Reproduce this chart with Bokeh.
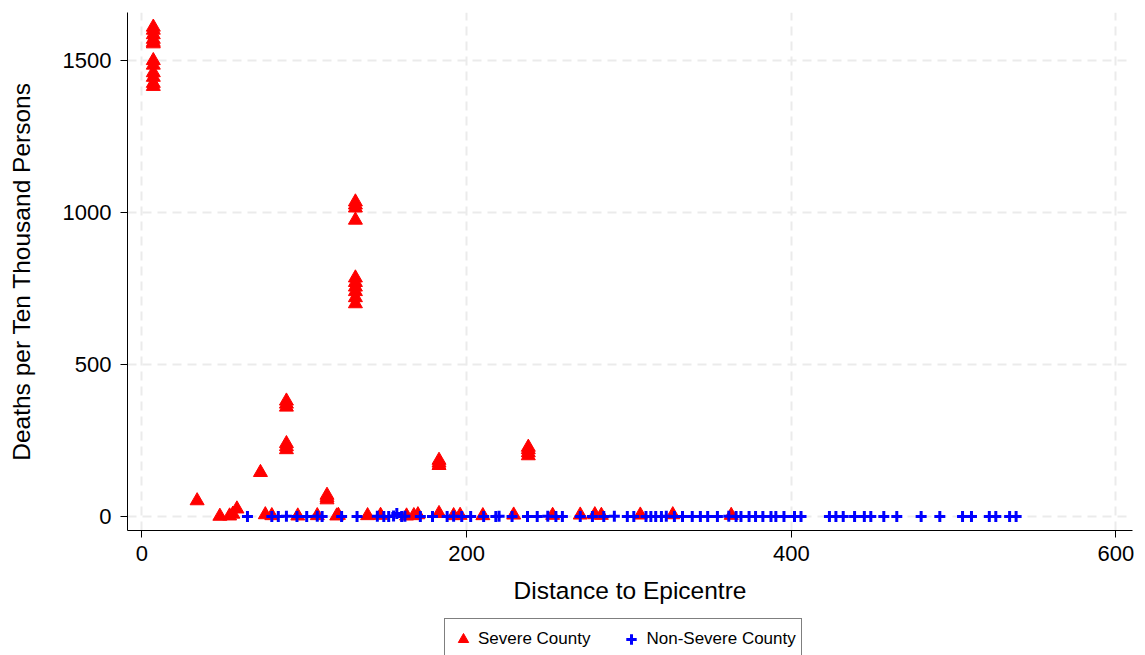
from bokeh.plotting import figure
from bokeh.layouts import column
from bokeh.models import ColumnDataSource, FixedTicker, Range1d, Legend, LegendItem
from bokeh.embed import file_html
from bokeh.resources import INLINE

# Severe counties: distance to epicentre (km) and deaths per ten thousand persons
severe_dist = [
    7, 7, 7, 7, 7, 7, 7, 7, 7, 7, 7, 7,
    34, 48, 54, 56, 58.5, 73, 76, 80,
    89, 89, 89, 89, 89, 89,
    96, 108, 114, 114, 114, 120, 121,
    131.5, 131.5, 131.5, 131.5, 131.5, 131.5, 131.5, 131.5, 131.5, 131.5,
    139, 147, 163, 167.5, 170,
    183, 183, 183, 183,
    192, 196, 210, 229,
    238, 238, 238, 238,
    253, 270, 279, 283, 307, 327, 363,
]
severe_deaths = [
    1610, 1600, 1585, 1570, 1560, 1555, 1500, 1485, 1460, 1445, 1425, 1415,
    52, 1, 2, 8, 25, 145, 6, 3,
    220, 230, 240, 360, 370, 380,
    2, 3, 55, 62, 70, 2, 4,
    1035, 1025, 1015, 975, 785, 770, 755, 740, 720, 700,
    3, 4, 2, 3, 6,
    168, 176, 185, 10,
    3, 4, 3, 5,
    200, 210, 220, 228,
    4, 5, 6, 4, 5, 6, 4,
]

# Non-severe counties
nonsevere_dist = [
    65, 80, 84, 89, 95.5, 101.5, 108, 111, 123, 132.5, 145, 149, 152, 155,
    157, 160, 162, 171.5, 179, 188, 192, 197, 202.5, 210.5, 218, 220, 228,
    237.5, 243.5, 250, 255, 259, 270, 277.5, 284.5, 291, 299, 303, 310.5,
    313.5, 316.5, 320, 323, 328, 333, 339, 344, 348.5, 354.5, 361.5, 366,
    369, 374, 378, 382.5, 387.5, 390.5, 395.5, 402, 406, 423.5, 427.5, 432,
    439, 445, 449, 457, 465, 480, 491.5, 505.5, 511, 522, 526, 534.5, 538.5,
]
nonsevere_deaths = [
    0, 0, 0, 1, 0, 0, 1, 0, 0, 0, 1, 0, 0, 2,
    10, 0, 1, 0, 0, 0, 1, 0, 0, 0, 0, 1, 0,
    0, 0, 1, 0, 0, 0, 0, 0, 1, 0, 0, 0,
    0, 0, 0, 1, 0, 0, 0, 0, 0, 0, 1, 0,
    0, 0, 0, 0, 0, 0, 0, 0, 0, 0, 0, 0,
    0, 0, 0, 0, 0, 0, 0, 0, 0, 0, 0, 0, 0,
]

x_ticks = [0, 200, 400, 600]
y_ticks = [0, 500, 1000, 1500]
series_labels = ["Severe County", "Non-Severe County"]

FONT = "Liberation Sans"
SEVERE_STYLE = dict(marker="triangle", size=14, fill_color="#ff0000",
                    line_color="#ff0000", line_width=1)
NONSEVERE_STYLE = dict(marker="cross", size=11, line_color="#0000ff", line_width=3)

p = figure(
    width=1145, height=612,
    x_range=Range1d(-8.9, 610.2), y_range=Range1d(-46, 1658),
    output_backend="svg", toolbar_location=None,
    min_border_left=127, min_border_right=13,
    min_border_top=12, min_border_bottom=82,
)
p.background_fill_color = "white"
p.border_fill_color = "white"
p.outline_line_color = None

sev = ColumnDataSource(dict(x=severe_dist, y=severe_deaths))
non = ColumnDataSource(dict(x=nonsevere_dist, y=nonsevere_deaths))

p.scatter("x", "y", source=sev, **SEVERE_STYLE)
p.scatter("x", "y", source=non, **NONSEVERE_STYLE)

# Axes
p.xaxis.ticker = FixedTicker(ticks=x_ticks)
p.yaxis.ticker = FixedTicker(ticks=y_ticks)
for ax in (p.xaxis[0], p.yaxis[0]):
    ax.axis_line_color = "black"
    ax.axis_line_width = 1
    ax.major_tick_line_color = "black"
    ax.major_tick_out = 7
    ax.major_tick_in = 0
    ax.minor_tick_line_color = None
    ax.major_label_text_font = FONT
    ax.major_label_text_font_size = "22px"
    ax.major_label_text_color = "black"
    ax.axis_label_text_font = FONT
    ax.axis_label_text_font_size = "24.5px"
    ax.axis_label_text_font_style = "normal"
    ax.axis_label_text_color = "black"

p.xaxis.axis_label = "Distance to Epicentre"
p.yaxis.axis_label = "Deaths per Ten Thousand Persons"
p.xaxis.major_label_standoff = 8
p.yaxis.major_label_standoff = 9
p.xaxis.axis_label_standoff = 13
p.yaxis.axis_label_standoff = 25

# Dashed light grid
for g in (p.xgrid[0], p.ygrid[0]):
    g.grid_line_color = "#ebebeb"
    g.grid_line_width = 2
    g.grid_line_dash = "9 6"

# Legend strip underneath the plot. It shares the two series' sources; its
# ranges lie outside the data, so only the legend keys are drawn here.
key = figure(
    width=1145, height=43,
    x_range=Range1d(-3, -2), y_range=Range1d(-3, -2),
    output_backend="svg", toolbar_location=None,
    min_border_left=0, min_border_right=0, min_border_top=0, min_border_bottom=0,
)
key.axis.visible = False
key.grid.visible = False
key.outline_line_color = None
key.background_fill_color = "white"
key.border_fill_color = "white"

k_sev = key.scatter("x", "y", source=sev, **SEVERE_STYLE)
k_non = key.scatter("x", "y", source=non, **NONSEVERE_STYLE)

legend = Legend(
    items=[
        LegendItem(label=series_labels[0], renderers=[k_sev]),
        LegendItem(label=series_labels[1], renderers=[k_non]),
    ],
    orientation="horizontal",
    location=(317, -5),
    label_text_font=FONT,
    label_text_font_size="17px",
    label_text_color="black",
    border_line_color="black",
    border_line_width=1,
    background_fill_color="white",
    background_fill_alpha=1.0,
    padding=5,
    spacing=28,
    glyph_width=26,
    glyph_height=30,
    label_standoff=2,
    label_height=20,
    margin=0,
)
key.add_layout(legend, "center")

layout = column(p, key, spacing=0)
open("out.html", "w").write(file_html(layout, INLINE))
